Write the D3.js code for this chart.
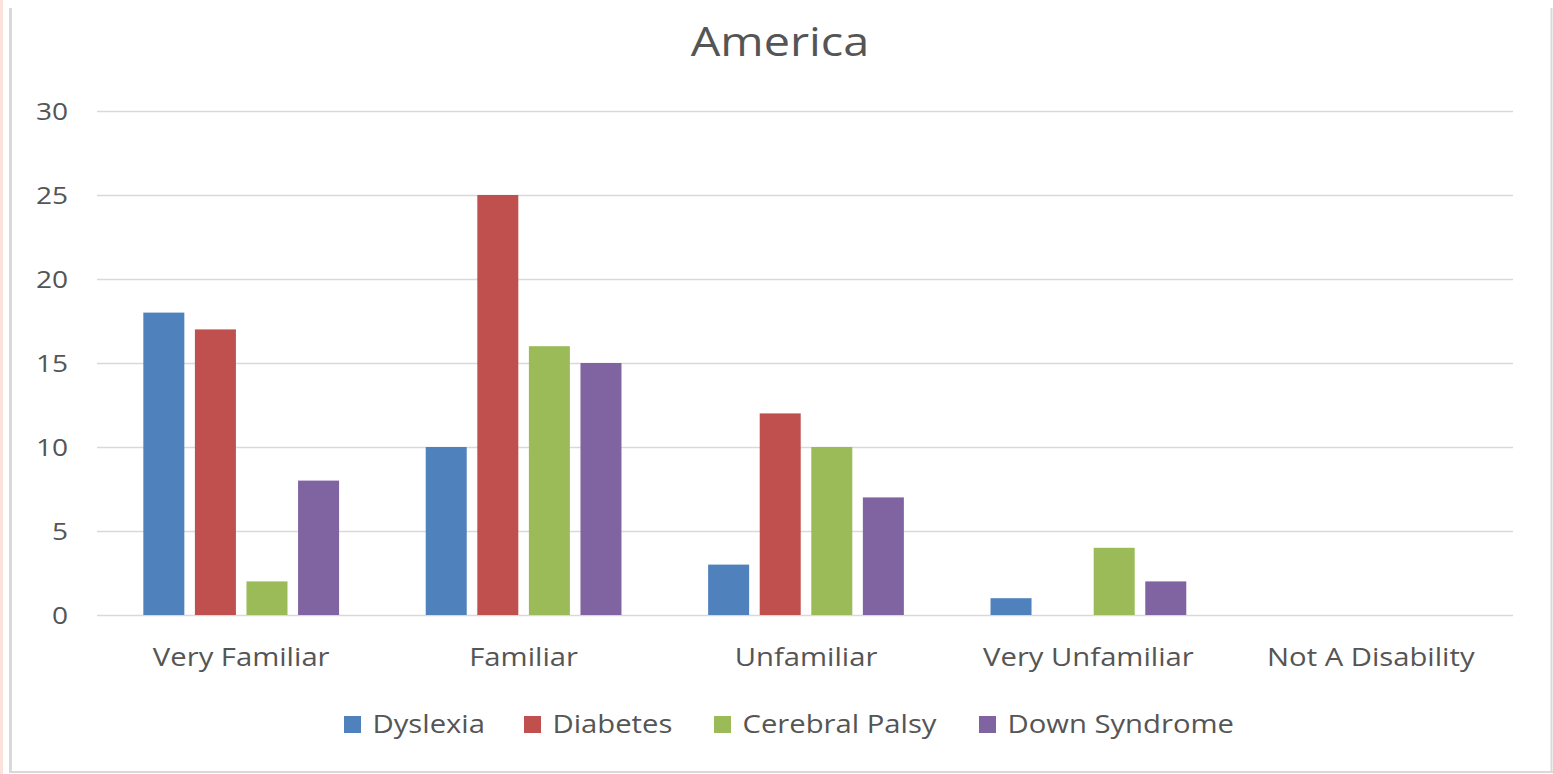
<!DOCTYPE html>
<html>
<head>
<meta charset="utf-8">
<script src="https://cdn.jsdelivr.net/npm/d3@7"></script>
<style>
  html, body { margin: 0; padding: 0; background: #fff; }
  svg { display: block; }
  text { font-family: "Open Sans", "Noto Sans", sans-serif; fill: #555; }
</style>
</head>
<body>
<svg id="chart" width="1553" height="774"></svg>
<script>
// Familiarity levels (x categories)
const categories = ["Very Familiar", "Familiar", "Unfamiliar", "Very Unfamiliar", "Not A Disability"];
// Conditions (series)
const seriesNames = ["Dyslexia", "Diabetes", "Cerebral Palsy", "Down Syndrome"];
// Counts per condition, one per familiarity level
const dyslexia      = [18, 10, 3, 1, 0];
const diabetes      = [17, 25, 12, 0, 0];
const cerebralPalsy = [2, 16, 10, 4, 0];
const downSyndrome  = [8, 15, 7, 2, 0];
const yTicks = [0, 5, 10, 15, 20, 25, 30];
const titleText = "America";

const seriesValues = [dyslexia, diabetes, cerebralPalsy, downSyndrome];
const colors = ["#4F81BD", "#C0504D", "#9BBB59", "#8064A2"];

const svg = d3.select("#chart");
const W = 1553, H = 774;
const plot = { left: 97, right: 1513, top: 111, bottom: 615 };
const STRETCH = 1.17; // wide lettering

svg.append("rect").attr("width", W).attr("height", H).attr("fill", "#fff");

// outer frame
svg.append("rect").attr("x", 0).attr("y", 0).attr("width", 3).attr("height", H).attr("fill", "#fbe3dc");
svg.append("line").attr("x1", 10.5).attr("x2", 10.5).attr("y1", 8).attr("y2", 772.5)
  .attr("stroke", "#d9d9d9").attr("stroke-width", 3);
svg.append("line").attr("x1", 1551.5).attr("x2", 1551.5).attr("y1", 8).attr("y2", 772.5)
  .attr("stroke", "#d9d9d9").attr("stroke-width", 2);
svg.append("line").attr("x1", 9).attr("x2", 1553).attr("y1", 772).attr("y2", 772)
  .attr("stroke", "#d9d9d9").attr("stroke-width", 2);

const x0 = d3.scaleBand().domain(categories).range([100, 1512]).padding(0);
const x1 = d3.scaleBand().domain(seriesNames).range([0, x0.bandwidth()])
  .paddingInner(0.205).paddingOuter(0.84);
const y = d3.scaleLinear().domain([0, 30]).range([plot.bottom, plot.top]);

// stretched text helper
function label(g, x, yy, txt, size, anchor) {
  return g.append("g").attr("transform", `translate(${x},${yy}) scale(${STRETCH},1)`)
    .append("text").attr("font-size", size).attr("text-anchor", anchor).text(txt);
}

// gridlines
const grid = svg.append("g");
grid.selectAll("line").data(yTicks).join("line")
  .attr("x1", plot.left).attr("x2", plot.right)
  .attr("y1", d => y(d) + 0.5).attr("y2", d => y(d) + 0.5)
  .attr("stroke", "#d9d9d9").attr("stroke-width", 1.5);

// y-axis labels
const yAxisG = svg.append("g");
yTicks.forEach(t => label(yAxisG, 68, y(t) + 8.5, String(t), 24, "end"));

// bars
const bars = svg.append("g");
categories.forEach((c, ci) => {
  seriesNames.forEach((s, si) => {
    const v = seriesValues[si][ci];
    if (v <= 0) return;
    bars.append("rect")
      .attr("x", x0(c) + x1(s))
      .attr("y", y(v))
      .attr("width", x1.bandwidth())
      .attr("height", y(0) - y(v))
      .attr("fill", colors[si]);
  });
});

// category labels
const xAxisG = svg.append("g");
categories.forEach(c => label(xAxisG, x0(c) + x0.bandwidth() / 2, 666, c, 25, "middle"));

// title
label(svg, 780, 56, titleText, 40, "middle");

// legend
const legendX = [344, 524, 714, 979];
const legend = svg.append("g");
seriesNames.forEach((s, i) => {
  legend.append("rect").attr("x", legendX[i]).attr("y", 716).attr("width", 17).attr("height", 17).attr("fill", colors[i]);
  label(legend, legendX[i] + 28.5, 733, s, 25, "start");
});
</script>
</body>
</html>
